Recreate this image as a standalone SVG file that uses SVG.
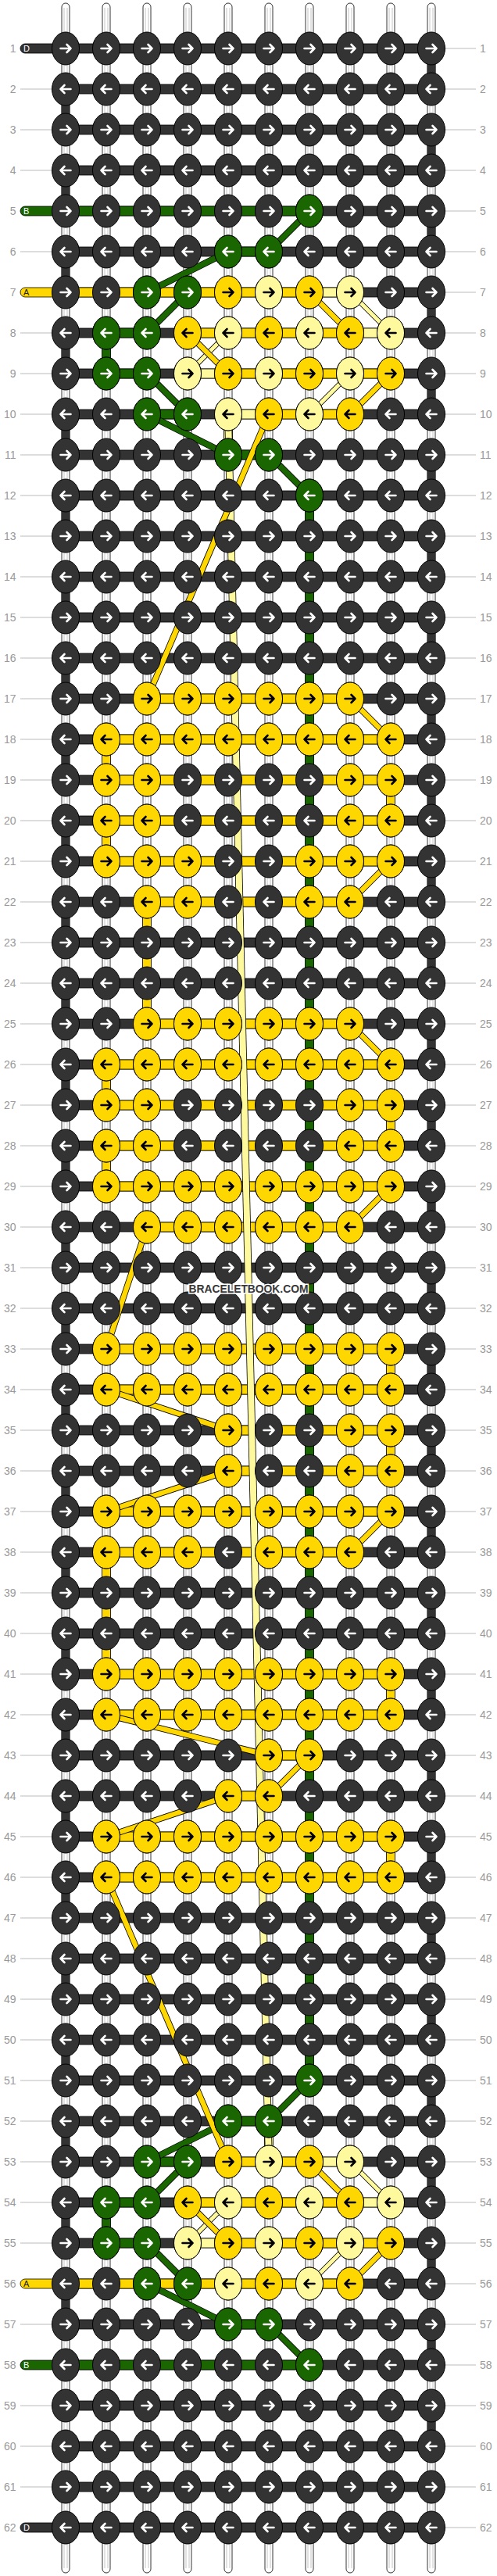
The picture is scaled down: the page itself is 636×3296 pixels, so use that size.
<svg xmlns="http://www.w3.org/2000/svg" width="636" height="3296" viewBox="0 0 636 3296">
<style>
.ws{fill:#fff;stroke:#000;stroke-width:.8}
.wi{fill:none;stroke:#c4c4c4;stroke-width:1}
.cv{stroke:#000;stroke-width:.8}
.D{fill:#333}.G{fill:#1a6600}.Y{fill:#ffd700}.L{fill:#fff99e}
.k{stroke:#000;stroke-width:1}
.aw,.ab{fill:none;stroke-width:2.6;stroke-linecap:round;stroke-linejoin:round}
.aw{stroke:#fff}.ab{stroke:#000}
.gl{fill:none;stroke:#bbb;stroke-width:1}
.num{font-family:"Liberation Sans",Arial,sans-serif;font-size:14px;fill:#999}
.lt{font-family:"Liberation Sans",Arial,sans-serif;font-size:11px}
</style>
<defs>
<g id="kDR"><ellipse class="k D" rx="17.5" ry="21"/><path class="aw" d="M-6.5,0H6.5M1.5,-5L6.5,0L1.5,5"/></g>
<g id="kDL"><ellipse class="k D" rx="17.5" ry="21"/><path class="aw" d="M6.5,0H-6.5M-1.5,-5L-6.5,0L-1.5,5"/></g>
<g id="kGR"><ellipse class="k G" rx="17.5" ry="21"/><path class="aw" d="M-6.5,0H6.5M1.5,-5L6.5,0L1.5,5"/></g>
<g id="kGL"><ellipse class="k G" rx="17.5" ry="21"/><path class="aw" d="M6.5,0H-6.5M-1.5,-5L-6.5,0L-1.5,5"/></g>
<g id="kYR"><ellipse class="k Y" rx="17.5" ry="21"/><path class="ab" d="M-6.5,0H6.5M1.5,-5L6.5,0L1.5,5"/></g>
<g id="kYL"><ellipse class="k Y" rx="17.5" ry="21"/><path class="ab" d="M6.5,0H-6.5M-1.5,-5L-6.5,0L-1.5,5"/></g>
<g id="kLR"><ellipse class="k L" rx="17.5" ry="21"/><path class="ab" d="M-6.5,0H6.5M1.5,-5L6.5,0L1.5,5"/></g>
<g id="kLL"><ellipse class="k L" rx="17.5" ry="21"/><path class="ab" d="M6.5,0H-6.5M-1.5,-5L-6.5,0L-1.5,5"/></g>
<g id="DR"><use href="#kDR" x="84"/><use href="#kDR" x="136"/><use href="#kDR" x="188"/><use href="#kDR" x="240"/><use href="#kDR" x="292"/><use href="#kDR" x="344"/><use href="#kDR" x="396"/><use href="#kDR" x="448"/><use href="#kDR" x="500"/><use href="#kDR" x="552"/></g>
<g id="DL"><use href="#kDL" x="84"/><use href="#kDL" x="136"/><use href="#kDL" x="188"/><use href="#kDL" x="240"/><use href="#kDL" x="292"/><use href="#kDL" x="344"/><use href="#kDL" x="396"/><use href="#kDL" x="448"/><use href="#kDL" x="500"/><use href="#kDL" x="552"/></g>
<g id="YR29"><use href="#kYR" x="136"/><use href="#kYR" x="188"/><use href="#kYR" x="240"/><use href="#kYR" x="292"/><use href="#kYR" x="344"/><use href="#kYR" x="396"/><use href="#kYR" x="448"/><use href="#kYR" x="500"/></g>
<g id="YL29"><use href="#kYL" x="136"/><use href="#kYL" x="188"/><use href="#kYL" x="240"/><use href="#kYL" x="292"/><use href="#kYL" x="344"/><use href="#kYL" x="396"/><use href="#kYL" x="448"/><use href="#kYL" x="500"/></g>
<g id="YR38"><use href="#kYR" x="188"/><use href="#kYR" x="240"/><use href="#kYR" x="292"/><use href="#kYR" x="344"/><use href="#kYR" x="396"/><use href="#kYR" x="448"/></g>
<g id="YL38"><use href="#kYL" x="188"/><use href="#kYL" x="240"/><use href="#kYL" x="292"/><use href="#kYL" x="344"/><use href="#kYL" x="396"/><use href="#kYL" x="448"/></g>
<g id="YR2389"><use href="#kYR" x="136"/><use href="#kYR" x="188"/><use href="#kYR" x="448"/><use href="#kYR" x="500"/></g>
<g id="YL2389"><use href="#kYL" x="136"/><use href="#kYL" x="188"/><use href="#kYL" x="448"/><use href="#kYL" x="500"/></g>
</defs>
<rect width="636" height="3296" fill="#fff"/>
<g id="connectors">
<g id="base-strands">
<rect class="ws" x="79" y="4" width="10" height="3288" rx="5"/>
<rect class="ws" x="131" y="4" width="10" height="3288" rx="5"/>
<rect class="ws" x="183" y="4" width="10" height="3288" rx="5"/>
<rect class="ws" x="235" y="4" width="10" height="3288" rx="5"/>
<rect class="ws" x="287" y="4" width="10" height="3288" rx="5"/>
<rect class="ws" x="339" y="4" width="10" height="3288" rx="5"/>
<rect class="ws" x="391" y="4" width="10" height="3288" rx="5"/>
<rect class="ws" x="443" y="4" width="10" height="3288" rx="5"/>
<rect class="ws" x="495" y="4" width="10" height="3288" rx="5"/>
<rect class="ws" x="547" y="4" width="10" height="3288" rx="5"/>
<path class="wi" d="M82,10V3286M86,10V3286M134,10V3286M138,10V3286M186,10V3286M190,10V3286M238,10V3286M242,10V3286M290,10V3286M294,10V3286M342,10V3286M346,10V3286M394,10V3286M398,10V3286M446,10V3286M450,10V3286M498,10V3286M502,10V3286M550,10V3286M554,10V3286"/>
</g>
<g id="edge-turns" fill="none" stroke="#333" stroke-width="11">
<path d="M552,62v52m0,52v52m0,52v52m0,52v52m0,52v52m0,52v52m0,52v52m0,52v52m0,52v52m0,52v52m0,52v52m0,52v52m0,52v52m0,52v52m0,52v52m0,52v52m0,52v52m0,52v52m0,52v52m0,52v52m0,52v52m0,52v52m0,52v52m0,52v52m0,52v52m0,52v52m0,52v52m0,52v52m0,52v52m0,52v52"/>
<path d="M84,114v52m0,52v52m0,52v52m0,52v52m0,52v52m0,52v52m0,52v52m0,52v52m0,52v52m0,52v52m0,52v52m0,52v52m0,52v52m0,52v52m0,52v52m0,52v52m0,52v52m0,52v52m0,52v52m0,52v52m0,52v52m0,52v52m0,52v52m0,52v52m0,52v52m0,52v52m0,52v52m0,52v52"/>
</g>
<g id="colored-verticals" class="cv">
<rect class="G" x="390.5" y="634" width="11" height="2028"/>
<rect class="G" x="130.5" y="426" width="11" height="52"/>
<rect class="G" x="130.5" y="2818" width="11" height="52"/>
<rect class="Y" x="130.5" y="946" width="11" height="52"/>
<rect class="Y" x="130.5" y="1050" width="11" height="52"/>
<rect class="Y" x="130.5" y="1362" width="11" height="52"/>
<rect class="Y" x="130.5" y="1466" width="11" height="52"/>
<rect class="Y" x="130.5" y="1986" width="11" height="156"/>
<rect class="Y" x="494.5" y="998" width="11" height="52"/>
<rect class="Y" x="494.5" y="1414" width="11" height="52"/>
<rect class="Y" x="494.5" y="1726" width="11" height="52"/>
<rect class="Y" x="494.5" y="1830" width="11" height="52"/>
<rect class="Y" x="494.5" y="2142" width="11" height="52"/>
<rect class="Y" x="494.5" y="2350" width="11" height="52"/>
<rect class="Y" x="182.5" y="1154" width="11" height="156"/>
<rect class="L" x="286.5" y="530" width="11" height="52"/>
<rect class="L" x="338.5" y="2714" width="11" height="52"/>
</g>
<g id="row-threads" class="cv">
<path class="D" d="M84,56h468v12h-468zM84,108h468v12h-468zM84,160h468v12h-468zM84,212h468v12h-468zM84,264h468v12h-468zM84,316h468v12h-468zM84,368h468v12h-468zM84,420h468v12h-468zM84,472h468v12h-468zM84,524h468v12h-468zM84,576h468v12h-468zM84,628h468v12h-468zM84,680h468v12h-468zM84,732h468v12h-468zM84,784h468v12h-468zM84,836h468v12h-468zM84,888h468v12h-468zM84,940h468v12h-468zM84,992h468v12h-468zM84,1044h468v12h-468zM84,1096h468v12h-468zM84,1148h468v12h-468zM84,1200h468v12h-468zM84,1252h468v12h-468zM84,1304h468v12h-468zM84,1356h468v12h-468zM84,1408h468v12h-468zM84,1460h468v12h-468zM84,1512h468v12h-468zM84,1564h468v12h-468zM84,1616h468v12h-468zM84,1668h468v12h-468zM84,1720h468v12h-468zM84,1772h468v12h-468zM84,1824h468v12h-468zM84,1876h468v12h-468zM84,1928h468v12h-468zM84,1980h468v12h-468zM84,2032h468v12h-468zM84,2084h468v12h-468zM84,2136h468v12h-468zM84,2188h468v12h-468zM84,2240h468v12h-468zM84,2292h468v12h-468zM84,2344h468v12h-468zM84,2396h468v12h-468zM84,2448h468v12h-468zM84,2500h468v12h-468zM84,2552h468v12h-468zM84,2604h468v12h-468zM84,2656h468v12h-468zM84,2708h468v12h-468zM84,2760h468v12h-468zM84,2812h468v12h-468zM84,2864h468v12h-468zM84,2916h468v12h-468zM84,2968h468v12h-468zM84,3020h468v12h-468zM84,3072h468v12h-468zM84,3124h468v12h-468zM84,3176h468v12h-468zM84,3228h468v12h-468z"/>
<rect class="D" x="26" y="56" width="64" height="12" rx="6"/>
<rect class="G" x="26" y="264" width="370" height="12" rx="6"/>
<rect class="Y" x="26" y="368" width="370" height="12" rx="6"/>
<rect class="Y" x="26" y="2916" width="422" height="12" rx="6"/>
<rect class="G" x="26" y="3020" width="370" height="12" rx="6"/>
<rect class="D" x="26" y="3228" width="64" height="12" rx="6"/>
<path class="Y" d="M240,420h208v12h-208zM292,472h208v12h-208zM344,524h104v12h-104zM188,888h260v12h-260zM136,940h364v12h-364zM136,992h364v12h-364zM136,1044h364v12h-364zM136,1096h364v12h-364zM188,1148h260v12h-260zM188,1304h260v12h-260zM136,1356h364v12h-364zM136,1408h364v12h-364zM136,1460h364v12h-364zM136,1512h364v12h-364zM188,1564h260v12h-260zM136,1720h364v12h-364zM136,1772h364v12h-364zM292,1824h208v12h-208zM292,1876h208v12h-208zM136,1928h364v12h-364zM136,1980h312v12h-312zM136,2136h364v12h-364zM136,2188h364v12h-364zM344,2240h52v12h-52zM292,2292h52v12h-52zM136,2344h364v12h-364zM136,2396h364v12h-364zM292,2760h104v12h-104zM240,2812h208v12h-208zM292,2864h208v12h-208z"/>
<path class="G" d="M292,316h52v12h-52zM136,420h52v12h-52zM136,472h52v12h-52zM188,524h52v12h-52zM292,576h52v12h-52zM292,2708h52v12h-52zM188,2760h52v12h-52zM136,2812h52v12h-52zM136,2864h52v12h-52zM292,2968h52v12h-52z"/>
<path class="L" d="M396,368h52v12h-52zM448,420h52v12h-52zM240,472h52v12h-52zM292,524h52v12h-52zM396,2760h52v12h-52zM448,2812h52v12h-52zM240,2864h52v12h-52z"/>
</g>
<g id="carried-threads" fill="none">
<path d="M292,530L344,2766" stroke="#000" stroke-width="9.6"/>
<path d="M292,530L344,2766" stroke="#fff99e" stroke-width="8"/>
<path d="M448,374L500,426M292,426L240,478M448,478L396,530M448,2766L500,2818M292,2818L240,2870M448,2870L396,2922" stroke="#000" stroke-width="6.6"/>
<path d="M448,374L500,426M292,426L240,478M448,478L396,530M448,2766L500,2818M292,2818L240,2870M448,2870L396,2922" stroke="#fff99e" stroke-width="5"/>
<path d="M396,270L344,322M292,322L188,374M240,374L188,426M188,478L240,530M188,530L292,582M344,582L396,634M396,2662L344,2714M292,2714L188,2766M240,2766L188,2818M188,2870L240,2922M188,2922L292,2974M344,2974L396,3026" stroke="#000" stroke-width="8.6"/>
<path d="M396,270L344,322M292,322L188,374M240,374L188,426M188,478L240,530M188,530L292,582M344,582L396,634M396,2662L344,2714M292,2714L188,2766M240,2766L188,2818M188,2870L240,2922M188,2922L292,2974M344,2974L396,3026" stroke="#1a6600" stroke-width="7"/>
<path d="M396,374L448,426M240,426L292,478M500,478L448,530M344,530L188,894M448,894L500,946M500,1102L448,1154M448,1310L500,1362M500,1518L448,1570M188,1570L136,1726M136,1778L292,1830M292,1882L136,1934M500,1934L448,1986M136,2194L344,2246M396,2246L344,2298M292,2298L136,2350M136,2402L292,2766M396,2766L448,2818M240,2818L292,2870M500,2870L448,2922" stroke="#000" stroke-width="8"/>
<path d="M396,374L448,426M240,426L292,478M500,478L448,530M344,530L188,894M448,894L500,946M500,1102L448,1154M448,1310L500,1362M500,1518L448,1570M188,1570L136,1726M136,1778L292,1830M292,1882L136,1934M500,1934L448,1986M136,2194L344,2246M396,2246L344,2298M292,2298L136,2350M136,2402L292,2766M396,2766L448,2818M240,2818L292,2870M500,2870L448,2922" stroke="#ffd700" stroke-width="6.4"/>
</g>
</g>
<g id="row-lines">
<path class="gl" d="M26,114H67M26,166H67M26,218H67M26,322H67M26,426H67M26,478H67M26,530H67M26,582H67M26,634H67M26,686H67M26,738H67M26,790H67M26,842H67M26,894H67M26,946H67M26,998H67M26,1050H67M26,1102H67M26,1154H67M26,1206H67M26,1258H67M26,1310H67M26,1362H67M26,1414H67M26,1466H67M26,1518H67M26,1570H67M26,1622H67M26,1674H67M26,1726H67M26,1778H67M26,1830H67M26,1882H67M26,1934H67M26,1986H67M26,2038H67M26,2090H67M26,2142H67M26,2194H67M26,2246H67M26,2298H67M26,2350H67M26,2402H67M26,2454H67M26,2506H67M26,2558H67M26,2610H67M26,2662H67M26,2714H67M26,2766H67M26,2818H67M26,2870H67M26,2974H67M26,3078H67M26,3130H67M26,3182H67"/>
<path class="gl" d="M569,62H609M569,114H609M569,166H609M569,218H609M569,270H609M569,322H609M569,374H609M569,426H609M569,478H609M569,530H609M569,582H609M569,634H609M569,686H609M569,738H609M569,790H609M569,842H609M569,894H609M569,946H609M569,998H609M569,1050H609M569,1102H609M569,1154H609M569,1206H609M569,1258H609M569,1310H609M569,1362H609M569,1414H609M569,1466H609M569,1518H609M569,1570H609M569,1622H609M569,1674H609M569,1726H609M569,1778H609M569,1830H609M569,1882H609M569,1934H609M569,1986H609M569,2038H609M569,2090H609M569,2142H609M569,2194H609M569,2246H609M569,2298H609M569,2350H609M569,2402H609M569,2454H609M569,2506H609M569,2558H609M569,2610H609M569,2662H609M569,2714H609M569,2766H609M569,2818H609M569,2870H609M569,2922H609M569,2974H609M569,3026H609M569,3078H609M569,3130H609M569,3182H609M569,3234H609"/>
</g>
<g id="knots">
<g id="row1"><use href="#DR" y="62"/></g>
<g id="row2"><use href="#DL" y="114"/></g>
<g id="row3"><use href="#DR" y="166"/></g>
<g id="row4"><use href="#DL" y="218"/></g>
<g id="row5"><use href="#DR" y="270"/><use href="#kGR" x="396" y="270"/></g>
<g id="row6"><use href="#DL" y="322"/><use href="#kGL" x="292" y="322"/><use href="#kGL" x="344" y="322"/></g>
<g id="row7"><use href="#DR" y="374"/><use href="#kGR" x="188" y="374"/><use href="#kGR" x="240" y="374"/><use href="#kYR" x="292" y="374"/><use href="#kLR" x="344" y="374"/><use href="#kYR" x="396" y="374"/><use href="#kLR" x="448" y="374"/></g>
<g id="row8"><use href="#DL" y="426"/><use href="#kGL" x="136" y="426"/><use href="#kGL" x="188" y="426"/><use href="#kYL" x="240" y="426"/><use href="#kLL" x="292" y="426"/><use href="#kYL" x="344" y="426"/><use href="#kLL" x="396" y="426"/><use href="#kYL" x="448" y="426"/><use href="#kLL" x="500" y="426"/></g>
<g id="row9"><use href="#DR" y="478"/><use href="#kGR" x="136" y="478"/><use href="#kGR" x="188" y="478"/><use href="#kLR" x="240" y="478"/><use href="#kYR" x="292" y="478"/><use href="#kLR" x="344" y="478"/><use href="#kYR" x="396" y="478"/><use href="#kLR" x="448" y="478"/><use href="#kYR" x="500" y="478"/></g>
<g id="row10"><use href="#DL" y="530"/><use href="#kGL" x="188" y="530"/><use href="#kGL" x="240" y="530"/><use href="#kLL" x="292" y="530"/><use href="#kYL" x="344" y="530"/><use href="#kLL" x="396" y="530"/><use href="#kYL" x="448" y="530"/></g>
<g id="row11"><use href="#DR" y="582"/><use href="#kGR" x="292" y="582"/><use href="#kGR" x="344" y="582"/></g>
<g id="row12"><use href="#DL" y="634"/><use href="#kGL" x="396" y="634"/></g>
<g id="row13"><use href="#DR" y="686"/></g>
<g id="row14"><use href="#DL" y="738"/></g>
<g id="row15"><use href="#DR" y="790"/></g>
<g id="row16"><use href="#DL" y="842"/></g>
<g id="row17"><use href="#DR" y="894"/><use href="#YR38" y="894"/></g>
<g id="row18"><use href="#DL" y="946"/><use href="#YL29" y="946"/></g>
<g id="row19"><use href="#DR" y="998"/><use href="#YR2389" y="998"/></g>
<g id="row20"><use href="#DL" y="1050"/><use href="#YL2389" y="1050"/></g>
<g id="row21"><use href="#DR" y="1102"/><use href="#YR2389" y="1102"/><use href="#kYR" x="240" y="1102"/><use href="#kYR" x="396" y="1102"/></g>
<g id="row22"><use href="#DL" y="1154"/><use href="#kYL" x="188" y="1154"/><use href="#kYL" x="240" y="1154"/><use href="#kYL" x="396" y="1154"/><use href="#kYL" x="448" y="1154"/></g>
<g id="row23"><use href="#DR" y="1206"/></g>
<g id="row24"><use href="#DL" y="1258"/></g>
<g id="row25"><use href="#DR" y="1310"/><use href="#YR38" y="1310"/></g>
<g id="row26"><use href="#DL" y="1362"/><use href="#YL29" y="1362"/></g>
<g id="row27"><use href="#DR" y="1414"/><use href="#YR2389" y="1414"/></g>
<g id="row28"><use href="#DL" y="1466"/><use href="#YL2389" y="1466"/></g>
<g id="row29"><use href="#DR" y="1518"/><use href="#YR29" y="1518"/></g>
<g id="row30"><use href="#DL" y="1570"/><use href="#YL38" y="1570"/></g>
<g id="row31"><use href="#DR" y="1622"/></g>
<g id="row32"><use href="#DL" y="1674"/></g>
<g id="row33"><use href="#DR" y="1726"/><use href="#YR29" y="1726"/></g>
<g id="row34"><use href="#DL" y="1778"/><use href="#YL29" y="1778"/></g>
<g id="row35"><use href="#DR" y="1830"/><use href="#kYR" x="292" y="1830"/><use href="#kYR" x="448" y="1830"/><use href="#kYR" x="500" y="1830"/></g>
<g id="row36"><use href="#DL" y="1882"/><use href="#kYL" x="292" y="1882"/><use href="#kYL" x="448" y="1882"/><use href="#kYL" x="500" y="1882"/></g>
<g id="row37"><use href="#DR" y="1934"/><use href="#YR29" y="1934"/></g>
<g id="row38"><use href="#DL" y="1986"/><use href="#kYL" x="136" y="1986"/><use href="#kYL" x="188" y="1986"/><use href="#kYL" x="240" y="1986"/><use href="#kYL" x="344" y="1986"/><use href="#kYL" x="396" y="1986"/><use href="#kYL" x="448" y="1986"/></g>
<g id="row39"><use href="#DR" y="2038"/></g>
<g id="row40"><use href="#DL" y="2090"/></g>
<g id="row41"><use href="#DR" y="2142"/><use href="#YR29" y="2142"/></g>
<g id="row42"><use href="#DL" y="2194"/><use href="#YL29" y="2194"/></g>
<g id="row43"><use href="#DR" y="2246"/><use href="#kYR" x="344" y="2246"/><use href="#kYR" x="396" y="2246"/></g>
<g id="row44"><use href="#DL" y="2298"/><use href="#kYL" x="292" y="2298"/><use href="#kYL" x="344" y="2298"/></g>
<g id="row45"><use href="#DR" y="2350"/><use href="#YR29" y="2350"/></g>
<g id="row46"><use href="#DL" y="2402"/><use href="#YL29" y="2402"/></g>
<g id="row47"><use href="#DR" y="2454"/></g>
<g id="row48"><use href="#DL" y="2506"/></g>
<g id="row49"><use href="#DR" y="2558"/></g>
<g id="row50"><use href="#DL" y="2610"/></g>
<g id="row51"><use href="#DR" y="2662"/><use href="#kGR" x="396" y="2662"/></g>
<g id="row52"><use href="#DL" y="2714"/><use href="#kGL" x="292" y="2714"/><use href="#kGL" x="344" y="2714"/></g>
<g id="row53"><use href="#DR" y="2766"/><use href="#kGR" x="188" y="2766"/><use href="#kGR" x="240" y="2766"/><use href="#kYR" x="292" y="2766"/><use href="#kLR" x="344" y="2766"/><use href="#kYR" x="396" y="2766"/><use href="#kLR" x="448" y="2766"/></g>
<g id="row54"><use href="#DL" y="2818"/><use href="#kGL" x="136" y="2818"/><use href="#kGL" x="188" y="2818"/><use href="#kYL" x="240" y="2818"/><use href="#kLL" x="292" y="2818"/><use href="#kYL" x="344" y="2818"/><use href="#kLL" x="396" y="2818"/><use href="#kYL" x="448" y="2818"/><use href="#kLL" x="500" y="2818"/></g>
<g id="row55"><use href="#DR" y="2870"/><use href="#kGR" x="136" y="2870"/><use href="#kGR" x="188" y="2870"/><use href="#kLR" x="240" y="2870"/><use href="#kYR" x="292" y="2870"/><use href="#kLR" x="344" y="2870"/><use href="#kYR" x="396" y="2870"/><use href="#kLR" x="448" y="2870"/><use href="#kYR" x="500" y="2870"/></g>
<g id="row56"><use href="#DL" y="2922"/><use href="#kGL" x="188" y="2922"/><use href="#kGL" x="240" y="2922"/><use href="#kLL" x="292" y="2922"/><use href="#kYL" x="344" y="2922"/><use href="#kLL" x="396" y="2922"/><use href="#kYL" x="448" y="2922"/></g>
<g id="row57"><use href="#DR" y="2974"/><use href="#kGR" x="292" y="2974"/><use href="#kGR" x="344" y="2974"/></g>
<g id="row58"><use href="#DL" y="3026"/><use href="#kGL" x="396" y="3026"/></g>
<g id="row59"><use href="#DR" y="3078"/></g>
<g id="row60"><use href="#DL" y="3130"/></g>
<g id="row61"><use href="#DR" y="3182"/></g>
<g id="row62"><use href="#DL" y="3234"/></g>
</g>
<g id="thread-letters" class="lt">
<text x="30" y="66" fill="#fff">D</text>
<text x="30" y="274" fill="#fff">B</text>
<text x="30" y="378" fill="#222">A</text>
<text x="30" y="2926" fill="#222">A</text>
<text x="30" y="3030" fill="#fff">B</text>
<text x="30" y="3238" fill="#fff">D</text>
</g>
<g id="row-numbers-left" class="num" text-anchor="end">
<text x="20.5" y="67">1</text><text x="20.5" y="119">2</text><text x="20.5" y="171">3</text><text x="20.5" y="223">4</text><text x="20.5" y="275">5</text><text x="20.5" y="327">6</text><text x="20.5" y="379">7</text><text x="20.5" y="431">8</text><text x="20.5" y="483">9</text><text x="20.5" y="535">10</text>
<text x="20.5" y="587">11</text><text x="20.5" y="639">12</text><text x="20.5" y="691">13</text><text x="20.5" y="743">14</text><text x="20.5" y="795">15</text><text x="20.5" y="847">16</text><text x="20.5" y="899">17</text><text x="20.5" y="951">18</text><text x="20.5" y="1003">19</text><text x="20.5" y="1055">20</text>
<text x="20.5" y="1107">21</text><text x="20.5" y="1159">22</text><text x="20.5" y="1211">23</text><text x="20.5" y="1263">24</text><text x="20.5" y="1315">25</text><text x="20.5" y="1367">26</text><text x="20.5" y="1419">27</text><text x="20.5" y="1471">28</text><text x="20.5" y="1523">29</text><text x="20.5" y="1575">30</text>
<text x="20.5" y="1627">31</text><text x="20.5" y="1679">32</text><text x="20.5" y="1731">33</text><text x="20.5" y="1783">34</text><text x="20.5" y="1835">35</text><text x="20.5" y="1887">36</text><text x="20.5" y="1939">37</text><text x="20.5" y="1991">38</text><text x="20.5" y="2043">39</text><text x="20.5" y="2095">40</text>
<text x="20.5" y="2147">41</text><text x="20.5" y="2199">42</text><text x="20.5" y="2251">43</text><text x="20.5" y="2303">44</text><text x="20.5" y="2355">45</text><text x="20.5" y="2407">46</text><text x="20.5" y="2459">47</text><text x="20.5" y="2511">48</text><text x="20.5" y="2563">49</text><text x="20.5" y="2615">50</text>
<text x="20.5" y="2667">51</text><text x="20.5" y="2719">52</text><text x="20.5" y="2771">53</text><text x="20.5" y="2823">54</text><text x="20.5" y="2875">55</text><text x="20.5" y="2927">56</text><text x="20.5" y="2979">57</text><text x="20.5" y="3031">58</text><text x="20.5" y="3083">59</text><text x="20.5" y="3135">60</text>
<text x="20.5" y="3187">61</text><text x="20.5" y="3239">62</text>
</g>
<g id="row-numbers-right" class="num">
<text x="614" y="67">1</text><text x="614" y="119">2</text><text x="614" y="171">3</text><text x="614" y="223">4</text><text x="614" y="275">5</text><text x="614" y="327">6</text><text x="614" y="379">7</text><text x="614" y="431">8</text><text x="614" y="483">9</text><text x="614" y="535">10</text>
<text x="614" y="587">11</text><text x="614" y="639">12</text><text x="614" y="691">13</text><text x="614" y="743">14</text><text x="614" y="795">15</text><text x="614" y="847">16</text><text x="614" y="899">17</text><text x="614" y="951">18</text><text x="614" y="1003">19</text><text x="614" y="1055">20</text>
<text x="614" y="1107">21</text><text x="614" y="1159">22</text><text x="614" y="1211">23</text><text x="614" y="1263">24</text><text x="614" y="1315">25</text><text x="614" y="1367">26</text><text x="614" y="1419">27</text><text x="614" y="1471">28</text><text x="614" y="1523">29</text><text x="614" y="1575">30</text>
<text x="614" y="1627">31</text><text x="614" y="1679">32</text><text x="614" y="1731">33</text><text x="614" y="1783">34</text><text x="614" y="1835">35</text><text x="614" y="1887">36</text><text x="614" y="1939">37</text><text x="614" y="1991">38</text><text x="614" y="2043">39</text><text x="614" y="2095">40</text>
<text x="614" y="2147">41</text><text x="614" y="2199">42</text><text x="614" y="2251">43</text><text x="614" y="2303">44</text><text x="614" y="2355">45</text><text x="614" y="2407">46</text><text x="614" y="2459">47</text><text x="614" y="2511">48</text><text x="614" y="2563">49</text><text x="614" y="2615">50</text>
<text x="614" y="2667">51</text><text x="614" y="2719">52</text><text x="614" y="2771">53</text><text x="614" y="2823">54</text><text x="614" y="2875">55</text><text x="614" y="2927">56</text><text x="614" y="2979">57</text><text x="614" y="3031">58</text><text x="614" y="3083">59</text><text x="614" y="3135">60</text>
<text x="614" y="3187">61</text><text x="614" y="3239">62</text>
</g>
<text id="watermark" x="318" y="1653.5" text-anchor="middle" font-family="Liberation Sans, Arial, sans-serif" font-size="15" font-weight="bold" fill="#383838" stroke="#fff" stroke-width="3" paint-order="stroke" textLength="153" lengthAdjust="spacingAndGlyphs">BRACELETBOOK.COM</text>
</svg>
